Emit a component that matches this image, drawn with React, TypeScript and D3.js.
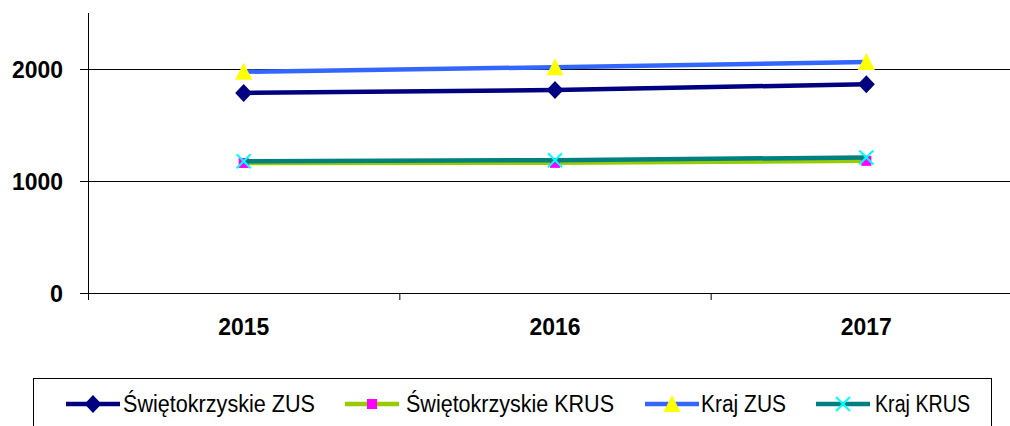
import React from 'react';
import * as d3 from 'd3';

// lata na osi X
const years = ['2015', '2016', '2017'];
// wartości serii
const swietokrzyskieZUS = [1786, 1813, 1864];
const swietokrzyskieKRUS = [1161, 1162, 1180];
const krajZUS = [1975, 2016, 2063];
const krajKRUS = [1177, 1186, 1210];
const yTicks = [0, 1000, 2000];

const seriesNames = ['Świętokrzyskie ZUS', 'Świętokrzyskie KRUS', 'Kraj ZUS', 'Kraj KRUS'];
const seriesValues = [swietokrzyskieZUS, swietokrzyskieKRUS, krajZUS, krajKRUS];
const lineColors = ['#000080', '#99CC00', '#3366FF', '#008080'];
const markerColors = ['#000080', '#FF00FF', '#FFFF00', '#00FFFF'];
const markerTypes = ['diamond', 'square', 'triangle', 'x'];

const W = 1010;
const H = 426;

function Marker({ type, x, y, color }: { type: string; x: number; y: number; color: string }) {
  if (type === 'diamond') {
    return <path d={`M${x},${y - 9} L${x + 8.5},${y} L${x},${y + 9} L${x - 8.5},${y} Z`} fill={color} />;
  }
  if (type === 'square') {
    return <rect x={x - 5} y={y - 5} width={10} height={10} fill={color} />;
  }
  if (type === 'triangle') {
    return <path d={`M${x},${y - 9} L${x + 8.5},${y + 8} L${x - 8.5},${y + 8} Z`} fill={color} />;
  }
  return (
    <path d={`M${x - 7},${y - 7} L${x + 7},${y + 7} M${x + 7},${y - 7} L${x - 7},${y + 7}`}
      stroke={color} strokeWidth={2} fill="none" />
  );
}

export default function App() {
  const x = d3.scaleBand<string>().domain(years).range([88, 1022]);
  const y = d3.scaleLinear().domain([0, 2500]).range([293, 13]);
  const cx = (d: string) => (x(d) as number) + x.bandwidth() / 2;

  const line = d3.line<number>()
    .x((_, i) => cx(years[i]))
    .y(d => y(d));

  const legendLines = [66, 345, 645, 816];
  const legendText = [123, 406, 701, 875];
  const legendWidths = [192, 208, 85, 95];
  const bold = "'Liberation Sans', Arial, sans-serif";

  return (
    <svg width={W} height={H} style={{ position: 'absolute', left: 0, top: 0 }}>
      <rect width={W} height={H} fill="#fff" />
      {/* siatka */}
      {yTicks.filter(t => t > 0).map(t => (
        <line key={t} x1={88} x2={W} y1={y(t) + 0.5} y2={y(t) + 0.5} stroke="#000" strokeWidth={1} />
      ))}
      {/* oś Y */}
      <line x1={88.5} x2={88.5} y1={13} y2={300} stroke="#000" strokeWidth={1} />
      {yTicks.map(t => (
        <g key={t}>
          <line x1={80} x2={88} y1={y(t) + 0.5} y2={y(t) + 0.5} stroke="#000" />
          <text x={63} y={y(t)} dy="0.36em" textAnchor="end" fontFamily={bold}
            fontWeight="bold" fontSize={24} fill="#000"
            textLength={t === 0 ? 13 : 51} lengthAdjust="spacingAndGlyphs">{t}</text>
        </g>
      ))}
      {/* oś X */}
      <line x1={88} x2={W} y1={293.5} y2={293.5} stroke="#000" />
      {years.map(yr => (
        <g key={yr}>
          <line x1={(x(yr) as number) + x.bandwidth() + 0.5} x2={(x(yr) as number) + x.bandwidth() + 0.5}
            y1={293} y2={300} stroke="#000" />
          <text x={cx(yr)} y={335} textAnchor="middle" fontFamily={bold}
            fontWeight="bold" fontSize={24} fill="#000" textLength={51} lengthAdjust="spacingAndGlyphs">{yr}</text>
        </g>
      ))}
      {/* serie */}
      {seriesValues.map((vals, si) => (
        <g key={si}>
          <path d={line(vals) as string} fill="none" stroke={lineColors[si]} strokeWidth={4.5} />
          {vals.map((v, i) => (
            <Marker key={i} type={markerTypes[si]} x={cx(years[i])} y={y(v)} color={markerColors[si]} />
          ))}
        </g>
      ))}
      {/* legenda */}
      <rect x={33.5} y={378.5} width={958} height={60} fill="none" stroke="#000" strokeWidth={1} />
      {seriesNames.map((name, i) => (
        <g key={name}>
          <line x1={legendLines[i]} x2={legendLines[i] + 54} y1={404} y2={404} stroke={lineColors[i]} strokeWidth={4.5} />
          <Marker type={markerTypes[i]} x={legendLines[i] + 27} y={404} color={markerColors[i]} />
          <text x={legendText[i]} y={412} fontFamily="'Liberation Sans Narrow', 'Liberation Sans', Arial, sans-serif"
            fontSize={23} fill="#000" textLength={legendWidths[i]} lengthAdjust="spacingAndGlyphs">{name}</text>
        </g>
      ))}
    </svg>
  );
}
